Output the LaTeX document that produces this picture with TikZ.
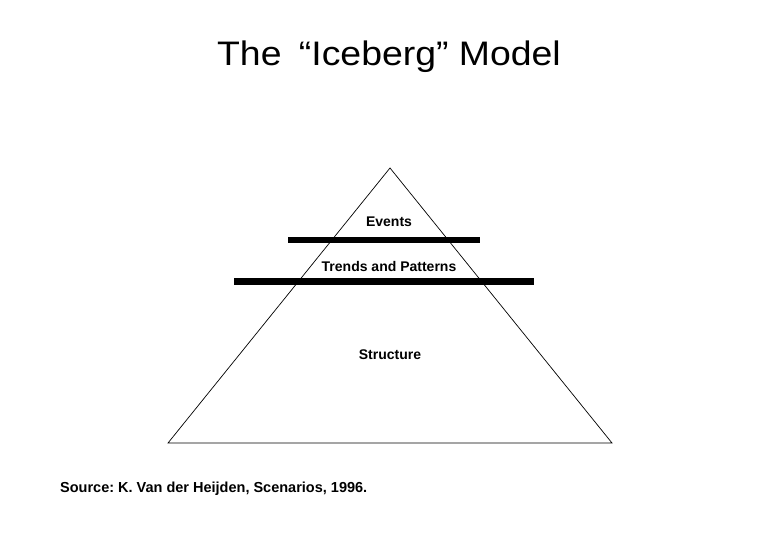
\documentclass[tikz,border=0pt]{standalone}
\usepackage{fontspec}
\setmainfont{Liberation Sans}
\newfontfamily\titlefont{Liberation Sans}[FakeStretch=1.1]
\usetikzlibrary{positioning}
\frenchspacing

\begin{document}
\begin{tikzpicture}[x=1pt,y=-1pt,
  lbl/.style={font=\fontsize{14}{16}\selectfont\bfseries,inner sep=1pt},
  bar/.style={line width=6.5pt,black}]
  \useasboundingbox (0,0) rectangle (780,540);
  % Title
  \node[font=\titlefont\fontsize{34}{38}\selectfont,anchor=base] (title) at (389,66) {The\hspace{7pt} “Iceberg” Model};
  % Pyramid
  \coordinate (apex) at (390,168);
  \coordinate (bl) at (168,443);
  \coordinate (br) at (612,443);
  \draw[line width=0.7pt] (apex) -- (br) -- (bl) -- cycle;
  % Levels
  \coordinate (bar1w) at (288,240);
  \coordinate (bar1e) at (480,240);
  \coordinate (bar2w) at (234,282);
  \coordinate (bar2e) at (534,282);
  \draw[bar] (bar1w) -- (bar1e);
  \draw[bar,line width=7pt] (bar2w) -- (bar2e);
  \node[lbl] (events) at (389,222) {Events};
  \node[lbl] (trends) at (389,266) {Trends and Patterns};
  \node[lbl] (structure) at (390,355) {Structure};
  % Source
  \node[lbl,font=\fontsize{14.5}{16}\selectfont\bfseries,anchor=base west] (source) at (59,492) {Source: K. Van der Heijden, Scenarios, 1996.};
\end{tikzpicture}
\end{document}
